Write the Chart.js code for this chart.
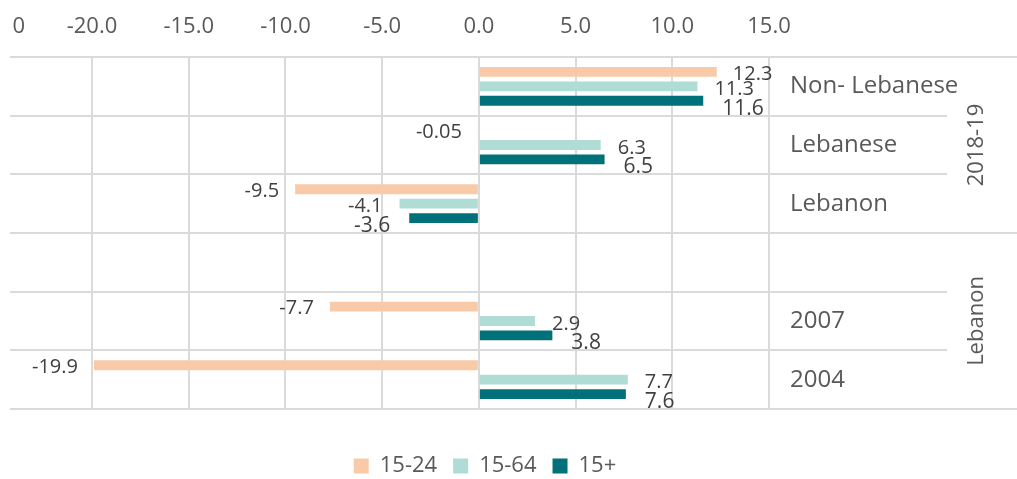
<!DOCTYPE html>
<html>
<head>
<meta charset="utf-8">
<script src="https://cdn.jsdelivr.net/npm/chart.js@4.4.1/dist/chart.umd.min.js"></script>
<style>
  html, body { margin: 0; padding: 0; background: #fff; }
  #wrap { width: 1017px; height: 479px; }
</style>
</head>
<body>
<div id="wrap"><canvas id="chart" width="1017" height="479"></canvas></div>
<script>
// ==========================================
// DATA
// ==========================================
const categories = ['Non- Lebanese', 'Lebanese', 'Lebanon', '', '2007', '2004'];
const groupLabels = ['2018-19', 'Lebanon'];
const groupSizes = [3, 3];
const seriesNames = ['15-24', '15-64', '15+'];
const youth = [12.3, -0.05, -9.5, null, -7.7, -19.9];
const workingAge = [11.3, 6.3, -4.1, null, 2.9, 7.7];
const allAdults = [11.6, 6.5, -3.6, null, 3.8, 7.6];
const tickValues = [-20, -15, -10, -5, 0, 5, 10, 15];
const tickLabels = ['0', '-20.0', '-15.0', '-10.0', '-5.0', '0.0', '5.0', '10.0', '15.0'];
const xMin = -24.24;
const xMax = 15;

// ==========================================
// STYLE
// ==========================================
const colors = ['#F8CAA8', '#AFDCD5', '#00707A'];
const gridColor = '#dadada';
const textColor = '#595959';
const fontFamily = '"Open Sans", sans-serif';
const labelStyle = [
  { dx: 16, dy: 2, size: 20 },
  { dx: 17, dy: 3, size: 20 },
  { dx: 19, dy: 8, size: 21 }
];

// value labels at the bar ends
const valueLabels = {
  id: 'valueLabels',
  afterDatasetsDraw(chart) {
    const ctx = chart.ctx;
    ctx.save();
    ctx.fillStyle = '#404040';
    ctx.textBaseline = 'middle';
    chart.data.datasets.forEach((ds, i) => {
      const meta = chart.getDatasetMeta(i);
      const st = labelStyle[i];
      ctx.font = st.size + 'px ' + fontFamily;
      meta.data.forEach((bar, j) => {
        const v = ds.data[j];
        if (v === null) return;
        const neg = v < 0;
        ctx.textAlign = neg ? 'right' : 'left';
        ctx.fillText(String(v), bar.x + (neg ? -st.dx : st.dx), bar.y + st.dy);
      });
    });
    ctx.restore();
  }
};

// multi-level category axis on the right
const groupAxis = {
  id: 'groupAxis',
  afterDraw(chart) {
    const y = chart.scales.y;
    const area = chart.chartArea;
    const ctx = chart.ctx;
    const step = y.getPixelForValue(1) - y.getPixelForValue(0);
    const edge = i => y.getPixelForValue(i) - step / 2;
    const groupEdges = [0];
    groupSizes.forEach(n => groupEdges.push(groupEdges[groupEdges.length - 1] + n));

    ctx.save();
    ctx.strokeStyle = gridColor;
    ctx.lineWidth = 2;
    for (let i = 0; i <= categories.length; i++) {
      const py = Math.round(edge(i));
      const outer = groupEdges.includes(i);
      ctx.beginPath();
      ctx.moveTo(area.right, py);
      ctx.lineTo(outer ? chart.width : area.right + 178, py);
      ctx.stroke();
    }

    ctx.fillStyle = textColor;
    ctx.font = '22px ' + fontFamily;
    ctx.textAlign = 'center';
    ctx.textBaseline = 'middle';
    groupLabels.forEach((g, k) => {
      const cy = (edge(groupEdges[k]) + edge(groupEdges[k + 1])) / 2;
      ctx.save();
      ctx.translate(area.right + 208, cy);
      ctx.rotate(-Math.PI / 2);
      ctx.fillText(g, 0, 0);
      ctx.restore();
    });
    ctx.restore();
  }
};

const series = [youth, workingAge, allAdults];

new Chart(document.getElementById('chart'), {
  type: 'bar',
  data: {
    labels: categories,
    datasets: series.map((d, i) => ({
      label: seriesNames[i],
      data: d,
      backgroundColor: colors[i],
      borderWidth: 0,
      categoryPercentage: 0.737,
      barPercentage: 0.68
    }))
  },
  options: {
    indexAxis: 'y',
    responsive: false,
    animation: false,
    layout: { padding: { left: 10, top: 0, right: 57, bottom: -8 } },
    plugins: {
      tooltip: { enabled: false },
      legend: {
        position: 'bottom',
        title: { display: true, text: '', font: { size: 10 }, padding: { top: 18, bottom: 0 } },
        labels: {
          boxWidth: 15,
          boxHeight: 15,
          padding: 16,
          color: textColor,
          font: { family: fontFamily, size: 22 }
        }
      }
    },
    scales: {
      x: {
        position: 'top',
        min: xMin,
        max: xMax,
        afterBuildTicks(scale) {
          scale.ticks = [{ value: xMin + 0.45 }].concat(tickValues.map(v => ({ value: v })));
        },
        afterFit(scale) {
          scale.height = 57;
          scale.paddingLeft = 0;
          scale.paddingRight = 0;
        },
        grid: {
          drawTicks: false,
          lineWidth: 2,
          color: c => (c.index === 0 ? 'rgba(0,0,0,0)' : gridColor)
        },
        border: { display: false },
        ticks: {
          autoSkip: false,
          maxRotation: 0,
          padding: 17,
          color: textColor,
          font: { family: fontFamily, size: 22 },
          callback: (v, i) => tickLabels[i]
        }
      },
      y: {
        position: 'right',
        grid: { drawTicks: false, lineWidth: 2, color: gridColor, offset: true },
        border: { display: false },
        ticks: {
          padding: 21,
          color: textColor,
          font: { family: fontFamily, size: 24 }
        },
        afterFit(scale) {
          scale.width = 191;
          scale.paddingTop = 0;
          scale.paddingBottom = 0;
        }
      }
    }
  },
  plugins: [valueLabels, groupAxis]
});
</script>
</body>
</html>
